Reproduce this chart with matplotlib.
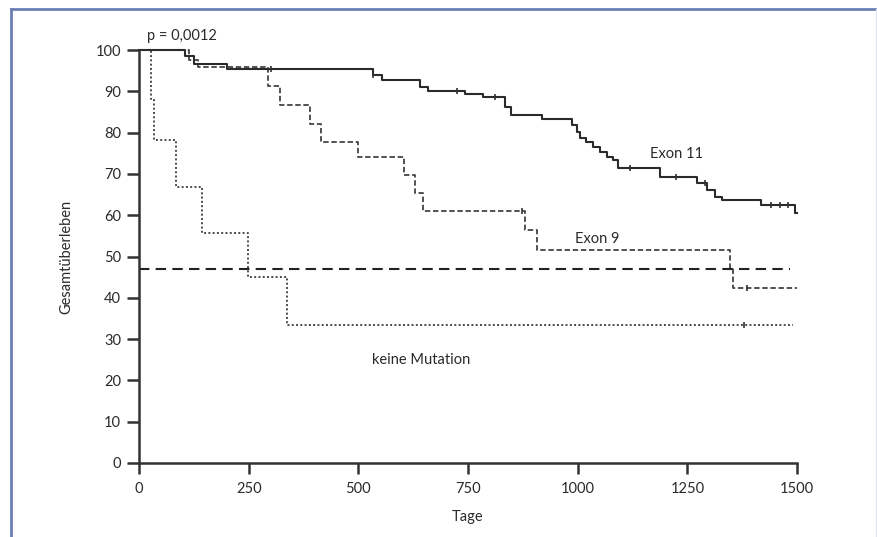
import numpy as np
import matplotlib
matplotlib.use("Agg")
import matplotlib.pyplot as plt
from matplotlib.lines import Line2D

# Kaplan-Meier Stufen (Tage, Überleben in %)
exon11_t = [0, 105, 125, 200, 533, 553, 640, 659, 743, 784, 834, 849, 918, 986, 998, 1005,
            1020, 1036, 1051, 1066, 1081, 1093, 1188, 1271, 1294, 1313, 1328, 1419, 1495, 1500]
exon11_s = [100, 98.5, 96.5, 95.3, 94, 92.7, 91.1, 90.1, 89.3, 88.5, 86.3, 84.3, 83.2, 81.8, 80.2, 78.6,
            77.8, 76.6, 75.4, 74.2, 73.4, 71.4, 69.3, 67.7, 66.1, 64.5, 63.7, 62.5, 60.5, 60.5]
exon11_censor = [300, 533, 725, 812, 1120, 1225, 1290, 1440, 1462, 1480]

exon9_t = [0, 115, 135, 295, 321, 390, 414, 500, 603, 629, 647, 880, 908, 1347, 1355, 1500]
exon9_s = [100, 97.5, 96, 91.2, 86.7, 82.2, 77.8, 74.2, 69.7, 65.3, 60.9, 56.4, 51.6, 47.1, 42.3, 42.3]
exon9_censor = [872, 1385]

keine_t = [0, 27, 34, 84, 143, 249, 337, 1490]
keine_s = [100, 88.1, 78.2, 66.9, 55.6, 45.1, 33.4, 33.4]
keine_censor = [1380]

median_level = 47
median_end = 1485

x_ticks = [0, 250, 500, 750, 1000, 1250, 1500]
y_ticks = [0, 10, 20, 30, 40, 50, 60, 70, 80, 90, 100]

plt.rcParams['font.family'] = ['Lato', 'DejaVu Sans']
txt_color = '#2a2a2a'


def step_value(ts, ss, t):
    i = np.searchsorted(ts, t, side='right') - 1
    return ss[i]


fig = plt.figure(figsize=(8.77, 5.37), dpi=100)
ax = fig.add_axes([139 / 877, 74 / 537, 658 / 877, 413 / 537])

ax.step(keine_t, keine_s, where='post', color='#4a4a4a', lw=1.4, ls=(0, (1, 1.2)), clip_on=False)
ax.step(exon9_t, exon9_s, where='post', color='#444444', lw=1.3, ls=(0, (3, 1.5)), clip_on=False)
ax.step(exon11_t, exon11_s, where='post', color='#2b2b2b', lw=1.5, clip_on=False)
ax.plot([0, median_end], [median_level, median_level], color='#222222', lw=1.5, ls=(0, (5, 3)))

for ts, ss, cs in [(exon11_t, exon11_s, exon11_censor), (exon9_t, exon9_s, exon9_censor),
                   (keine_t, keine_s, keine_censor)]:
    ys = [step_value(ts, ss, c) for c in cs]
    ax.plot(cs, ys, ls='none', marker='|', ms=5, mew=1.2, color='#333333')

ax.text(18, 103.5, "p = 0,0012", fontsize=10.5, color=txt_color, va='center')
ax.text(1165, 74.8, "Exon 11", fontsize=10.5, color=txt_color, va='center')
ax.text(994, 54.2, "Exon 9", fontsize=10.5, color=txt_color, va='center')
ax.text(531, 24.9, "keine Mutation", fontsize=10.5, color=txt_color, va='center')

ax.set_xlim(0, 1500)
ax.set_ylim(0, 100)
ax.set_xticks(x_ticks)
ax.set_yticks(y_ticks)
ax.set_xticklabels([str(v) for v in x_ticks])
ax.set_yticklabels([str(v) for v in y_ticks])
ax.tick_params(axis='both', labelsize=10.5, colors='#333333', labelcolor=txt_color,
               width=1.8, length=9, pad=4)
ax.tick_params(axis='x', length=8, pad=6)

for side in ['top', 'right']:
    ax.spines[side].set_visible(False)
for side in ['left', 'bottom']:
    ax.spines[side].set_linewidth(1.8)
    ax.spines[side].set_color('#333333')

ax.set_xlabel("Tage", fontsize=10.5, color=txt_color, labelpad=10)
ax.set_ylabel("Gesamtüberleben", fontsize=10.5, color=txt_color, labelpad=16)

# blauer Rahmen
fx = 10.5 / 877
fy = 1 - 8.5 / 537
fig.add_artist(Line2D([fx, fx], [0, fy], transform=fig.transFigure, color='#6b80b6', lw=2))
fig.add_artist(Line2D([fx, 1], [fy, fy], transform=fig.transFigure, color='#6b80b6', lw=2))
fig.add_artist(Line2D([1 - 1.5 / 877, 1 - 1.5 / 877], [0, fy], transform=fig.transFigure,
                      color='#dfe4f1', lw=1))

fig.savefig("out.png", dpi=100)
